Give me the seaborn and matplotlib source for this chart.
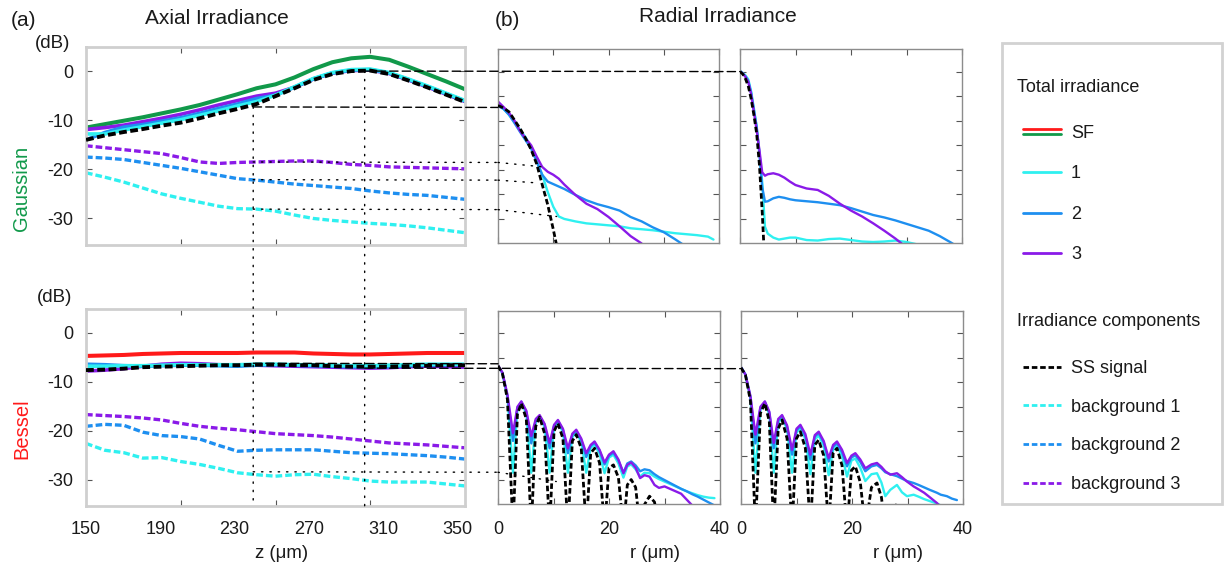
import numpy as np
import matplotlib
matplotlib.use("Agg")
import matplotlib.pyplot as plt
import seaborn as sns
from matplotlib.lines import Line2D
from matplotlib.patches import ConnectionPatch, Rectangle
from matplotlib.legend_handler import HandlerBase
from matplotlib.ticker import FixedLocator

sns.set_theme(style="white")
plt.rcParams["font.family"] = ["Liberation Sans", "DejaVu Sans"]
plt.rcParams["text.color"] = "#1a1a1a"

nan = np.nan
RED, GREEN = "#ff1a1a", "#11994a"
CYAN, BLUE, PURPLE = "#2ff0f0", "#1e8ff0", "#8a1ae8"

# ---------------- axial irradiance (dB) vs z (um)
z_axial = [150, 160.2, 170.4, 180.6, 190.8, 201, 211.2, 221.4, 231.6, 241.8, 252,
           262.2, 272.4, 282.6, 292.8, 303, 313.2, 323.4, 333.6, 343.8, 354]

gau_sf = [-11.5, -10.8, -10.1, -9.4, -8.6, -7.8, -6.9, -5.8, -4.7, -3.5, -2.7,
          -1.3, 0.4, 1.8, 2.6, 2.9, 2.3, 0.9, -0.6, -2.1, -3.7]
gau_ss = [-14.0, -13.1, -12.4, -11.8, -11.1, -10.5, -9.6, -8.6, -7.7, -6.7, -5.1,
          -3.5, -1.8, -0.6, 0.0, 0.1, -0.6, -1.9, -3.3, -4.8, -6.3]
gau_t1 = [-12.8, -12.8, -12.0, -11.3, -10.6, -9.9, -9.0, -8.1, -7.1, -6.2, -4.9,
          -3.2, -1.5, -0.3, 0.3, 0.4, -0.3, -1.6, -3.0, -4.5, -6.0]
gau_t2 = [-14.0, -12.5, -11.4, -10.9, -10.2, -9.5, -8.6, -7.6, -6.7, -5.6, -4.9,
          -3.3, -1.6, -0.4, 0.2, 0.3, -0.4, -1.7, -3.1, -4.6, -6.1]
gau_t3 = [-11.9, -11.5, -11.0, -10.3, -9.6, -8.8, -7.9, -6.9, -6.0, -5.1, -4.5,
          -3.3, -1.6, -0.4, 0.1, 0.2, -0.5, -1.8, -3.2, -4.7, -6.2]
gau_bg1 = [-20.7, -21.6, -22.6, -23.8, -25.0, -25.9, -26.7, -27.5, -28.0, -28.1, -28.5,
           -29.3, -30.0, -30.4, -30.7, -31.0, -31.2, -31.5, -31.9, -32.4, -32.9]
gau_bg2 = [-17.5, -17.7, -18.0, -18.6, -19.2, -19.8, -20.5, -21.2, -21.9, -22.2, -22.6,
           -23.0, -23.3, -23.6, -23.9, -24.4, -24.8, -25.1, -25.3, -25.7, -26.1]
gau_bg3 = [-15.2, -15.6, -16.0, -16.4, -16.8, -17.6, -18.5, -18.8, -18.6, -18.5, -18.4,
           -18.3, -18.3, -18.6, -19.0, -19.2, -19.5, -19.6, -19.7, -19.8, -19.9]

bes_sf = [-4.7, -4.6, -4.5, -4.3, -4.2, -4.1, -4.1, -4.1, -4.1, -4.0, -4.0,
          -4.0, -4.2, -4.3, -4.4, -4.4, -4.3, -4.2, -4.1, -4.1, -4.1]
bes_ss = [-7.6, -7.5, -7.3, -7.0, -6.9, -6.8, -6.7, -6.6, -6.6, -6.5, -6.5,
          -6.6, -6.6, -6.8, -6.9, -6.9, -6.9, -6.8, -6.7, -6.6, -6.6]
bes_t1 = [-6.8, -6.8, -6.7, -6.7, -6.6, -6.5, -6.5, -6.5, -6.5, -6.4, -6.4,
          -6.5, -6.5, -6.6, -6.7, -6.7, -6.6, -6.5, -6.4, -6.4, -6.4]
bes_t2 = [-6.4, -6.5, -6.7, -6.8, -6.7, -6.6, -6.6, -6.7, -6.8, -6.6, -6.5,
          -6.6, -6.7, -6.8, -6.9, -7.0, -6.9, -6.7, -6.6, -6.5, -6.5]
bes_t3 = [-7.8, -7.6, -7.3, -6.8, -6.4, -6.2, -6.3, -6.5, -6.6, -6.6, -6.7,
          -6.8, -6.9, -7.0, -7.1, -7.2, -7.1, -6.9, -6.8, -6.9, -7.0]
bes_bg1 = [-22.6, -24.0, -24.5, -25.6, -25.5, -26.3, -26.9, -27.7, -28.6, -29.0, -29.3,
           -29.0, -28.9, -29.4, -29.8, -30.3, -30.5, -30.5, -30.5, -30.9, -31.3]
bes_bg2 = [-19.1, -18.7, -18.9, -20.3, -21.0, -21.2, -21.7, -23.0, -24.2, -24.0, -23.9,
           -23.9, -23.9, -24.2, -24.5, -24.6, -24.7, -24.9, -25.1, -25.4, -25.8]
bes_bg3 = [-16.7, -16.9, -17.1, -17.4, -17.8, -18.5, -19.1, -19.5, -19.8, -20.2, -20.6,
           -20.8, -21.0, -21.3, -21.7, -22.1, -22.5, -22.7, -22.9, -23.2, -23.5]

z_ticks = [150, 190, 230, 270, 310, 350]

# ---------------- radial irradiance (dB) vs r (um), Gaussian
gr1_r = [0, 1, 2, 3, 4, 5, 6, 7, 8, 9, 10, 11, 12, 14, 16, 18, 20, 22, 24, 26, 28,
         30, 32, 34, 36, 38, 39]
gr1_ss = [-6.9, -7.4, -8.2, -9.9, -11.6, -13.6, -15.9, -18.8, -23.0, -27.1, -32.1, -37.5,
          nan, nan, nan, nan, nan, nan, nan, nan, nan, nan, nan, nan, nan, nan, nan]
gr1_t1 = [-6.8, -7.6, -8.8, -10.3, -11.9, -13.4, -15.4, -18.2, -21.0, -24.5, -27.5, -29.5,
          -30.0, -30.5, -30.9, -31.1, -31.3, -31.5, -31.9, -32.1, -32.3, -32.6, -32.9,
          -33.1, -33.3, -33.6, -34.2]
gr1_t2 = [-7.0, -7.6, -8.8, -10.5, -12.3, -14.0, -15.7, -18.3, -21.0, -22.4, -22.9, -23.4,
          -23.9, -25.1, -26.2, -27.0, -27.6, -28.3, -29.6, -30.5, -31.7, -32.7, -34.1,
          -35.6, nan, nan, nan]
gr1_t3 = [-6.1, -7.2, -8.4, -10.0, -12.1, -13.6, -15.0, -17.3, -19.4, -20.4, -21.0, -21.8,
          -23.0, -25.1, -26.9, -28.0, -29.6, -31.5, -33.5, -35.0, nan, nan, nan, nan, nan,
          nan, nan]

gr2_r = [0, 0.5, 1, 1.5, 2, 2.5, 3, 3.5, 4, 4.5, 5, 6, 7, 8, 9, 10, 12, 14, 16, 18, 20,
         22, 24, 26, 28, 30, 32, 34, 36, 38, 39]
gr2_ss = [0.0, -0.5, -1.5, -3.0, -5.5, -8.8, -12.6, -19.0, -28.5, -40, nan, nan, nan,
          nan, nan, nan, nan, nan, nan, nan, nan, nan, nan, nan, nan, nan, nan, nan, nan,
          nan, nan]
gr2_t1 = [0.2, -0.3, -0.8, -1.6, -4.0, -7.5, -11.2, -16.5, -22.5, -31.6, -33.0, -33.8,
          -34.2, -34.0, -33.8, -33.8, -34.3, -34.4, -34.1, -34.0, -34.3, -34.6, -34.7,
          -34.6, -34.4, -34.7, -35.2, nan, nan, nan, nan]
gr2_t2 = [0.0, -0.4, -1.0, -2.0, -4.3, -7.8, -11.2, -16.8, -23.5, -26.5, -26.4, -25.8,
          -25.5, -25.7, -26.0, -26.2, -26.4, -26.6, -26.9, -27.2, -27.8, -28.5, -29.2,
          -29.7, -30.3, -31.0, -31.7, -32.4, -33.5, -34.8, -35.5]
gr2_t3 = [0.1, -0.4, -1.1, -2.1, -4.6, -8.2, -11.9, -16.0, -20.5, -21.2, -20.9, -20.7,
          -21.0, -21.6, -22.4, -23.1, -23.8, -24.1, -25.3, -26.9, -28.3, -29.5, -30.9,
          -32.4, -34.0, -35.8, nan, nan, nan, nan, nan]

# ---------------- radial irradiance, Bessel
br1_r = [0.0, 0.8, 1.7, 2.7, 3.5, 4.2, 5.1, 6.0, 6.8, 7.5, 8.4, 9.3, 10.1, 10.8, 11.7,
         12.6, 13.4, 14.1, 15.0, 15.9, 16.7, 17.4, 18.3, 19.2, 20.0, 20.8, 21.7, 22.6,
         23.3, 24.0, 24.8, 25.6, 26.4, 27.3, 28.2, 29.0, 30.0, 31.0, 32.0, 33.0, 34.0,
         35.0, 36.0, 37.0, 38.0, 39.0]
br1_ss = [-6.6, -8.2, -13.5, -40, -16.5, -14.3, -17.5, -40, -19.0, -17.1, -20.5, -40,
          -20.0, -18.4, -21.5, -40, -22.0, -20.7, -23.5, -40, -24.5, -23.5, -26.5, -40,
          -27.5, -26.9, -29.5, -40, -31.0, -29.9, -31.5, -40, -35.0, -33.3, -34.5, -40,
          nan, nan, nan, nan, nan, nan, nan, nan, nan, nan]
br1_t1 = [-6.6, -8.1, -13.0, -28.5, -15.5, -14.2, -16.4, -28.5, -18.2, -17.1, -19.2,
          -28.5, -19.3, -18.2, -20.2, -28.5, -21.2, -20.3, -22.2, -28.5, -23.4, -22.8,
          -24.6, -28.6, -25.4, -24.8, -26.6, -29.5, -27.2, -26.8, -27.8, -29.3, -28.5,
          -28.6, -29.3, -29.8, -30.3, -30.8, -31.3, -31.8, -32.3, -32.7, -33.1, -33.4,
          -33.6, -33.7]
br1_t2 = [-6.6, -8.1, -12.8, -22.0, -15.2, -14.0, -16.0, -22.5, -17.8, -16.9, -18.7,
          -23.5, -18.9, -17.9, -19.7, -24.5, -20.7, -20.0, -21.8, -25.3, -23.0, -22.4,
          -24.0, -26.8, -25.0, -24.4, -26.0, -28.5, -26.6, -26.2, -27.0, -28.2, -27.8,
          -28.0, -28.8, -29.4, -30.0, -30.6, -31.2, -31.8, -32.3, -32.9, -33.4, -34.0,
          -34.6, -35.2]
br1_t3 = [-6.5, -8.0, -12.5, -20.4, -15.0, -13.9, -15.8, -21.0, -17.5, -16.7, -18.5,
          -22.4, -18.7, -17.7, -19.5, -23.5, -20.5, -19.7, -21.5, -24.5, -22.8, -22.1,
          -23.8, -26.4, -24.8, -24.1, -25.8, -28.6, -26.9, -26.4, -27.5, -29.6, -29.0,
          -29.3, -31.0, -31.6, -31.3, -31.8, -32.3, -32.8, -34.0, -35.2, nan, nan, nan, nan]

br2_r = [0.0, 0.8, 1.7, 2.6, 3.5, 4.3, 5.1, 5.9, 6.7, 7.4, 8.3, 9.2, 10.0, 10.7, 11.6,
         12.5, 13.3, 14.0, 14.9, 15.8, 16.6, 17.3, 18.2, 19.1, 19.9, 20.6, 21.5, 22.4,
         23.5, 24.5, 25.3, 26.0, 26.9, 28.1, 29.0, 29.9, 31.1, 32.0, 33.0, 34.0, 35.3,
         36.0, 37.1, 38.0, 38.9]
br2_ss = [-7.0, -8.5, -13.8, -40, -16.3, -14.3, -18.0, -40, -19.5, -17.7, -21.5, -40,
          -21.5, -20.1, -23.5, -40, -22.8, -21.8, -25.0, -40, -24.5, -23.5, -27.0, -40,
          -28.0, -27.2, -30.5, -40, -31.5, -30.6, -33.5, -40, -40, -34.7, -40,
          nan, nan, nan, nan, nan, nan, nan, nan, nan, nan]
br2_t1 = [-6.9, -8.4, -13.2, -28.5, -15.6, -14.2, -16.6, -28.5, -18.3, -17.2, -19.6,
          -28.5, -20.3, -19.4, -21.6, -28.8, -21.7, -20.9, -23.0, -29.0, -23.8, -23.1,
          -25.0, -29.3, -26.0, -25.6, -27.5, -30.2, -28.8, -28.6, -30.5, -33.3, -32.0,
          -31.0, -32.5, -33.3, -33.0, -33.4, -33.9, -34.3, -34.8, -35.2, nan, nan, nan]
br2_t2 = [-6.9, -8.4, -13.0, -22.5, -15.2, -14.0, -16.2, -23.5, -17.8, -16.9, -19.1,
          -24.8, -19.8, -19.0, -21.0, -25.8, -21.1, -20.4, -22.3, -26.2, -23.2, -22.5,
          -24.3, -27.2, -25.4, -24.9, -26.3, -28.2, -27.2, -26.9, -27.6, -28.4, -28.8,
          -29.2, -29.7, -30.2, -30.6, -31.0, -31.5, -32.0, -32.6, -33.0, -33.3, -33.8,
          -34.1]
br2_t3 = [-6.9, -8.4, -12.8, -20.7, -15.0, -13.9, -16.0, -22.4, -17.5, -16.7, -18.8,
          -23.8, -19.5, -18.7, -20.6, -24.8, -20.8, -20.1, -22.0, -25.5, -22.8, -22.1,
          -23.8, -26.5, -25.0, -24.5, -25.8, -27.6, -26.8, -26.5, -27.3, -28.2, -28.9,
          -28.6, -29.4, -30.3, -31.3, -31.9, -32.6, -33.5, -34.7, -35.5, nan, nan, nan]

# planes of the radial cuts and guide levels
z_cut = [240, 300]
gau_cut_level = [-7.3, 0.0]
bes_cut_level = [-6.2, -7.2]
gau_guides = [(-18.5, 8.1, -19.4), (-22.1, 7.5, -22.7), (-28.1, 10.6, -29.5)]
bes_guides = [(-28.4, 10.5, -30.3)]

# ---------------- figure
W, H = 1226, 566
fig = plt.figure(figsize=(W / 100, H / 100), dpi=100)


def box(l, t, r, b):
    return [l / W, 1 - b / H, (r - l) / W, (b - t) / H]


ax_gt = fig.add_axes(box(86, 47, 465, 245))
ax_bt = fig.add_axes(box(86, 309, 465, 506))
ax_gr1 = fig.add_axes(box(498, 49, 719, 243))
ax_gr2 = fig.add_axes(box(740, 49, 962, 243))
ax_br1 = fig.add_axes(box(498, 311, 720, 504))
ax_br2 = fig.add_axes(box(741, 311, 963, 504))


def curve(ax, x, y, color, lw, dash=None, zo=2):
    kw = dict(color=color, lw=lw, zorder=zo)
    if dash is not None:
        kw["linestyle"] = (0, dash)
    sns.lineplot(x=np.asarray(x, float), y=np.asarray(y, float), ax=ax,
                 estimator=None, sort=False, legend=False, **kw)


# axial panels
for ax, sf, sfc, tot, ss, bgs in [
        (ax_gt, gau_sf, GREEN, (gau_t3, gau_t2, gau_t1), gau_ss, (gau_bg3, gau_bg2, gau_bg1)),
        (ax_bt, bes_sf, RED, (bes_t3, bes_t2, bes_t1), bes_ss, (bes_bg3, bes_bg2, bes_bg1))]:
    for bg, c in zip(bgs, (PURPLE, BLUE, CYAN)):
        curve(ax, z_axial, bg, c, 2.4, dash=(2, 0.9))
    curve(ax, z_axial, sf, sfc, 2.9)
    for t, c in zip(tot, (PURPLE, BLUE, CYAN)):
        curve(ax, z_axial, t, c, 2.6)
    curve(ax, z_axial, ss, "black", 2.8, dash=(2, 0.9), zo=3)

    ax.set_xlim(150, 354)
    ax.set_ylim(-35.4, 4.9)
    ax.set_yticks([-30, -20, -10, 0])
    ax.set_yticklabels(["-30", "-20", "-10", "0"])
    ax.set_xticks(z_ticks)
    ax.set_xticklabels([str(v) for v in z_ticks])
    lo, hi = ax.get_xlim()
    ax.xaxis.set_minor_locator(FixedLocator([lo + (hi - lo) * k / 4 for k in (1, 2, 3)]))
    ax.tick_params(axis="x", which="major", length=0, pad=11, labelsize=13,
                   labelbottom=(ax is ax_bt), labelcolor="#1a1a1a")
    ax.tick_params(axis="x", which="minor", direction="in", length=4, width=0.8,
                   top=True, bottom=True, color="#555555")
    ax.tick_params(axis="y", direction="in", length=4, width=0.8, left=True, right=True,
                   pad=9, labelsize=13, color="#555555", labelcolor="#1a1a1a")
    for s in ax.spines.values():
        s.set_color("#cfcfcf")
        s.set_linewidth(2)
    ax.set_xlabel("")
    ax.set_ylabel("")

# radial panels
for ax, r, ss, t1, t2, t3, lab in [
        (ax_gr1, gr1_r, gr1_ss, gr1_t1, gr1_t2, gr1_t3, False),
        (ax_gr2, gr2_r, gr2_ss, gr2_t1, gr2_t2, gr2_t3, False),
        (ax_br1, br1_r, br1_ss, br1_t1, br1_t2, br1_t3, True),
        (ax_br2, br2_r, br2_ss, br2_t1, br2_t2, br2_t3, True)]:
    curve(ax, r, t1, CYAN, 1.7)
    curve(ax, r, t2, BLUE, 1.7)
    curve(ax, r, t3, PURPLE, 1.7)
    curve(ax, r, ss, "black", 2.0, dash=(2, 1), zo=3)
    ax.set_xlim(0, 40)
    ax.set_ylim(-34.9, 4.6)
    ax.set_xticks([0, 20, 40])
    ax.set_xticklabels(["0", "20", "40"])
    ax.xaxis.set_minor_locator(FixedLocator([10, 30]))
    ax.set_yticks(np.arange(-30, 1, 5))
    ax.set_yticklabels([])
    ax.tick_params(axis="x", which="both", direction="in", length=4, width=0.8,
                   top=True, bottom=True, color="#555555", pad=12, labelsize=13,
                   labelbottom=lab, labelcolor="#1a1a1a")
    ax.tick_params(axis="y", direction="in", length=4, width=0.8, left=True, right=True,
                   color="#555555")
    for s in ax.spines.values():
        s.set_color("#8c8c8c")
        s.set_linewidth(1)
    ax.set_xlabel("")
    ax.set_ylabel("")


# guide lines between panels
def link(axA, xyA, axB, xyB, ls):
    con = ConnectionPatch(xyA=xyA, coordsA=axA.transData, xyB=xyB, coordsB=axB.transData,
                          color="black", lw=1.0, linestyle=ls, zorder=5)
    fig.add_artist(con)


DASH = (0, (6, 3))
DOT = (0, (1, 5))
ybot = ax_bt.get_ylim()[0]
link(ax_gt, (z_cut[0], gau_cut_level[0]), ax_gr1, (0, gau_cut_level[0]), DASH)
link(ax_gt, (z_cut[1], gau_cut_level[1]), ax_gr2, (0, gau_cut_level[1]), DASH)
link(ax_bt, (z_cut[0], bes_cut_level[0]), ax_br1, (0, bes_cut_level[0]), DASH)
link(ax_bt, (z_cut[1], bes_cut_level[1]), ax_br2, (0, bes_cut_level[1]), DASH)
for zc, lv in zip(z_cut, gau_cut_level):
    link(ax_gt, (zc, lv), ax_bt, (zc, ybot), DOT)
for lv, r_end, v_end in gau_guides:
    link(ax_gt, (z_cut[0], lv), ax_gr1, (0, lv), DOT)
    link(ax_gr1, (0, lv), ax_gr1, (r_end, v_end), DOT)
for lv, r_end, v_end in bes_guides:
    link(ax_bt, (z_cut[0], lv), ax_br1, (0, lv), DOT)
    link(ax_br1, (0, lv), ax_br1, (r_end, v_end), DOT)


# texts
def ftext(x, y, s, **kw):
    fig.text(x / W, 1 - y / H, s, ha=kw.pop("ha", "center"), va=kw.pop("va", "center"), **kw)


ftext(23, 20, "(a)", fontsize=15)
ftext(217, 19, "Axial Irradiance", fontsize=15)
ftext(507, 20, "(b)", fontsize=15)
ftext(718, 17, "Radial Irradiance", fontsize=15)
ftext(53, 44, "(dB)", fontsize=13.5)
ftext(55, 298, "(dB)", fontsize=13.5)
ftext(22, 188, "Gaussian", fontsize=14.5, rotation=90, color=GREEN)
ftext(22, 429, "Bessel", fontsize=14.5, rotation=90, color=RED)
ftext(282, 553, "z (\u03bcm)", fontsize=13.4)
ftext(655, 553, "r (\u03bcm)", fontsize=13.4)
ftext(898, 553, "r (\u03bcm)", fontsize=13.4)

# legend
fig.add_artist(Rectangle((1002 / W, 1 - 504 / H), 220 / W, 461 / H, transform=fig.transFigure,
                         facecolor="none", edgecolor="#d2d2d2", lw=2, zorder=1))
ftext(1017, 87, "Total irradiance", fontsize=13, ha="left")
ftext(1017, 321, "Irradiance components", fontsize=13, ha="left")


class SFHandler(HandlerBase):
    def create_artists(self, legend, orig_handle, xdescent, ydescent, width, height,
                       fontsize, trans):
        ym = height / 2 - ydescent
        out = []
        for dy, c in ((1.9, RED), (-1.9, GREEN)):
            ln = Line2D([-xdescent, width - xdescent], [ym + dy, ym + dy], color=c, lw=2)
            ln.set_transform(trans)
            out.append(ln)
        return out


sf_handle = Line2D([], [], color=RED)
tot_handles = [sf_handle] + [Line2D([], [], color=c, lw=2) for c in (CYAN, BLUE, PURPLE)]
comp_handles = [Line2D([], [], color=c, lw=2, linestyle=(0, (2, 1)))
                for c in ("black", CYAN, BLUE, PURPLE)]
leg_kw = dict(loc="upper left", frameon=False, fontsize=13, handlelength=2.1,
              handletextpad=0.55, borderpad=0, borderaxespad=0)
fig.legend(tot_handles, ["SF", "1", "2", "3"], bbox_to_anchor=(1023 / W, 1 - 125 / H),
           handler_map={sf_handle: SFHandler()}, labelspacing=1.3, **leg_kw)
fig.legend(comp_handles, ["SS signal", "background 1", "background 2", "background 3"],
           bbox_to_anchor=(1023 / W, 1 - 360 / H), labelspacing=1.2, **leg_kw)

fig.savefig("out.png", dpi=100)
